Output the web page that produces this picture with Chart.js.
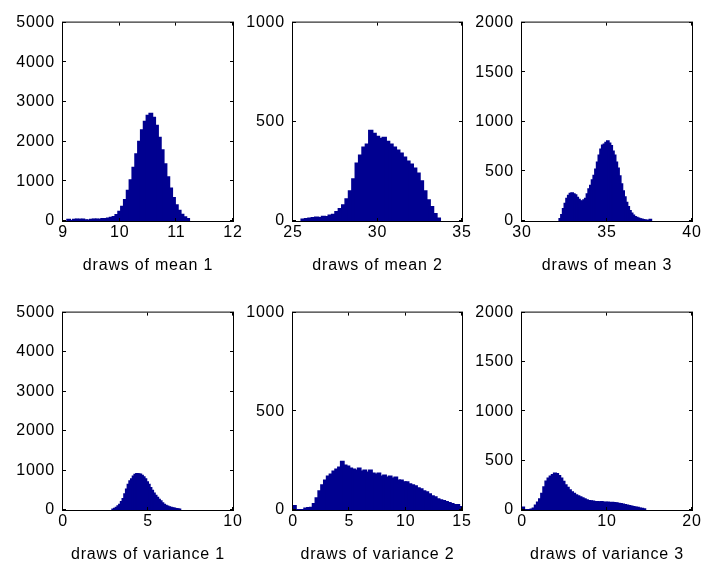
<!DOCTYPE html>
<html>
<head>
<meta charset="utf-8">
<script src="https://cdn.jsdelivr.net/npm/chart.js@4.4.1/dist/chart.umd.min.js"></script>
<style>
    html, body { margin: 0; padding: 0; background: #fff; overflow: hidden; }
    #wrap { position: relative; width: 703px; height: 567px; }
    canvas { position: absolute; }
</style>
</head>
<body>
<div id="wrap">
    <canvas id="gMean1" width="241" height="270" style="left:3px;top:5px"></canvas>
    <canvas id="gMean2" width="240" height="270" style="left:233px;top:5px"></canvas>
    <canvas id="gMean3" width="241" height="270" style="left:462px;top:5px"></canvas>
    <canvas id="gVar1" width="241" height="269" style="left:3px;top:295px"></canvas>
    <canvas id="gVar2" width="240" height="269" style="left:233px;top:295px"></canvas>
    <canvas id="gVar3" width="241" height="269" style="left:462px;top:295px"></canvas>
</div>
<script>
//Donnees - histogrammes (debut de classe, largeur de classe, effectifs)
var mean1Start = 9.075, mean1Width = 0.05;
var mean1Counts = [30, 0, 30, 40, 30, 40, 20, 10, 30, 40, 40, 30, 50, 50, 60,
    80, 100, 150, 230, 360, 530, 760, 1030, 1340, 1680, 2000, 2290, 2500, 2650,
    2700, 2600, 2400, 2100, 1780, 1430, 1100, 820, 580, 400, 260, 160, 95, 50];

var mean2Start = 25.5, mean2Width = 0.2;
var mean2Counts = [8, 10, 12, 15, 18, 15, 22, 20, 28, 32, 45, 60, 80, 110, 150, 210,
    290, 330, 370, 385, 455, 440, 425, 415, 420, 400, 385, 370, 355, 340, 320, 300,
    285, 265, 240, 200, 150, 105, 70, 35, 12];

var mean3Start = 32.2, mean3Width = 0.1;
var mean3Counts = [20, 60, 120, 175, 225, 255, 275, 280, 270, 260, 235, 215, 200, 195,
    210, 225, 270, 320, 355, 410, 455, 520, 590, 660, 720, 760, 770, 790, 805, 780,
    755, 700, 660, 590, 530, 450, 370, 300, 240, 185, 140, 100, 75, 55, 40, 32, 25,
    18, 15, 10, 6, 4, 0, 12];

var var1Start = 2.9, var1Width = 0.1;
var var1Counts = [10, 30, 60, 95, 130, 200, 280, 400, 520, 640, 730, 780, 850, 890,
    910, 905, 900, 870, 830, 780, 700, 640, 560, 490, 420, 360, 310, 260, 220, 170,
    130, 110, 90, 70, 55, 45, 35, 25, 20, 15];

var var2Start = 0, var2Width = 0.25;
var var2Counts = [20, 0, 0, 0, 8, 10, 12, 30, 60, 95, 125, 150, 170, 180, 195, 205,
    215, 245, 225, 220, 210, 205, 200, 210, 195, 200, 190, 200, 185, 180, 185, 170,
    175, 165, 170, 160, 165, 150, 150, 140, 140, 130, 125, 120, 110, 105, 95, 90,
    80, 70, 65, 55, 50, 45, 40, 35, 30, 25, 25, 15];

var var3Start = 0, var3Width = 0.25;
var var3Counts = [25, 0, 0, 0, 5, 15, 45, 75, 110, 165, 230, 290, 320, 340, 355, 370,
    365, 345, 320, 285, 250, 225, 200, 180, 165, 150, 140, 130, 120, 110, 100, 92,
    88, 85, 82, 80, 78, 80, 76, 74, 75, 72, 74, 70, 68, 64, 60, 55, 50, 45, 40, 35,
    30, 26, 22, 16, 12, 8];

var mean1XTicks = [9, 12, 1], mean2XTicks = [25, 35, 5], mean3XTicks = [30, 40, 5];
var var1XTicks = [0, 10, 5], var2XTicks = [0, 15, 5], var3XTicks = [0, 20, 10];
var col1YTicks = [0, 5000, 1000], col2YTicks = [0, 1000, 500], col3YTicks = [0, 2000, 500];

var txtFont = { family: 'Liberation Sans', size: 16 };

//Cadre facon MATLAB - bordure + graduations vers l'interieur
var boxPlugin = {
    id: 'boxPlugin',
    beforeDraw: function (chart) {
        chart.ctx.letterSpacing = '0.8px';
    },
    afterDatasetsDraw: function (chart) {
        var ctx = chart.ctx;
        var a = chart.chartArea;
        var sx = chart.scales.x, sy = chart.scales.y;
        var tl = 3;
        ctx.save();
        ctx.strokeStyle = '#000';
        ctx.lineWidth = 1;
        ctx.strokeRect(a.left - 0.5, a.top - 0.5, a.right - a.left + 1, a.bottom - a.top + 1);
        ctx.beginPath();
        sx.ticks.forEach(function (t) {
            var px = Math.round(sx.getPixelForValue(t.value)) - 0.5;
            ctx.moveTo(px, a.bottom); ctx.lineTo(px, a.bottom - tl);
            ctx.moveTo(px, a.top); ctx.lineTo(px, a.top + tl);
        });
        sy.ticks.forEach(function (t) {
            var py = Math.round(sy.getPixelForValue(t.value)) - 0.5;
            ctx.moveTo(a.left, py); ctx.lineTo(a.left + tl, py);
            ctx.moveTo(a.right, py); ctx.lineTo(a.right - tl, py);
        });
        ctx.stroke();
        ctx.restore();
    }
};

//Histo - affichage d'un graphique
function DisplayHisto(graphId, start, width, counts, xTicks, yTicks, titre) {
    var points = counts.map(function (c, i) {
        return { x: start + (i + 0.5) * width, y: c };
    });
    var ctx = document.getElementById(graphId).getContext('2d');
    var chart = new Chart(ctx, {
        type: 'bar',
        data: {
            datasets: [{
                data: points,
                backgroundColor: '#000090',
                borderWidth: 0,
                inflateAmount: 1,
                barPercentage: 1,
                categoryPercentage: 1,
                grouped: false
            }]
        },
        options: {
            responsive: false,
            animation: false,
            events: [],
            layout: { padding: { top: 10, right: 11, left: 0, bottom: 0 } },
            plugins: { legend: { display: false }, tooltip: { enabled: false } },
            scales: {
                x: {
                    type: 'linear',
                    offset: false,
                    min: xTicks[0], max: xTicks[1],
                    grid: { display: false, drawTicks: false },
                    border: { display: false },
                    ticks: { stepSize: xTicks[2], color: '#000', font: txtFont, padding: 2, maxRotation: 0,
                        callback: function (v) { return String(v); } },
                    title: { display: true, text: titre, color: '#000', font: txtFont, padding: { top: 0, bottom: 0 } },
                    afterFit: function (axis) { axis.height = 54; }
                },
                y: {
                    min: yTicks[0], max: yTicks[1],
                    grid: { display: false, drawTicks: false },
                    border: { display: false },
                    ticks: { stepSize: yTicks[2], color: '#000', font: txtFont, padding: 8,
                        callback: function (v) { return String(v); } },
                    afterFit: function (axis) { axis.width = 60; }
                }
            }
        },
        plugins: [boxPlugin]
    });
}

DisplayHisto('gMean1', mean1Start, mean1Width, mean1Counts, mean1XTicks, col1YTicks, 'draws of mean 1');
DisplayHisto('gMean2', mean2Start, mean2Width, mean2Counts, mean2XTicks, col2YTicks, 'draws of mean 2');
DisplayHisto('gMean3', mean3Start, mean3Width, mean3Counts, mean3XTicks, col3YTicks, 'draws of mean 3');
DisplayHisto('gVar1', var1Start, var1Width, var1Counts, var1XTicks, col1YTicks, 'draws of variance 1');
DisplayHisto('gVar2', var2Start, var2Width, var2Counts, var2XTicks, col2YTicks, 'draws of variance 2');
DisplayHisto('gVar3', var3Start, var3Width, var3Counts, var3XTicks, col3YTicks, 'draws of variance 3');
</script>
</body>
</html>
